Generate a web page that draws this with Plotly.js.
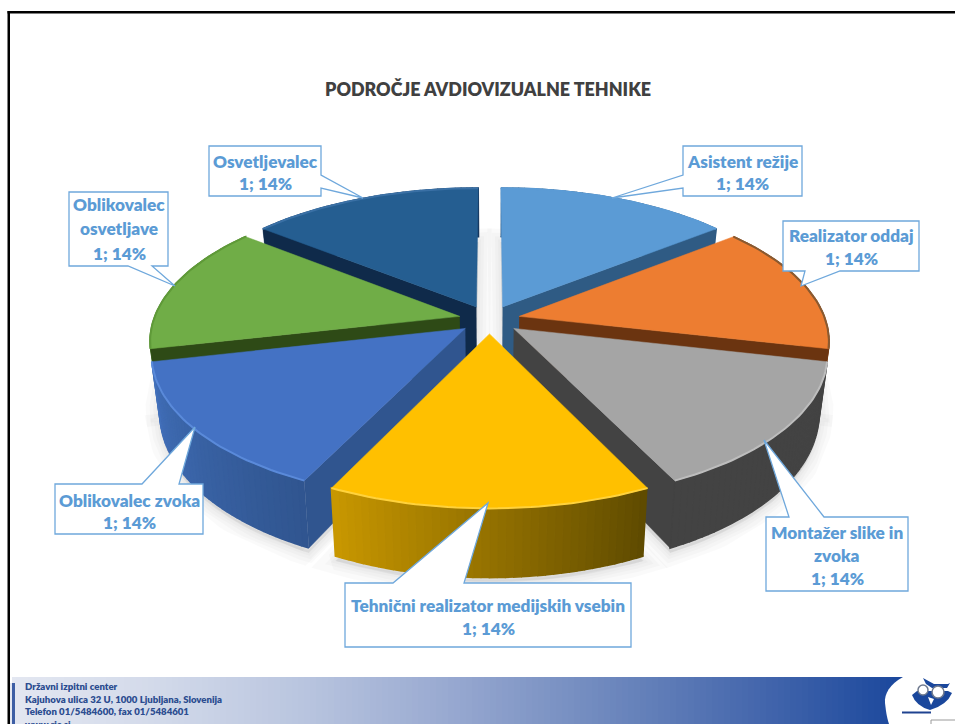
<!DOCTYPE html>
<html>
<head>
<meta charset="utf-8">
<script src="https://cdn.plot.ly/plotly-3.0.1.min.js"></script>
<style>html,body{margin:0;padding:0;background:#fff;overflow:hidden}#chart{width:955px;height:724px}</style>
</head>
<body>
<div id="chart"></div>
<script>
// ---- data ----
const chartTitle = "PODROČJE AVDIOVIZUALNE TEHNIKE";
const categoryLines = [
  ["Asistent režije"],
  ["Realizator oddaj"],
  ["Montažer slike in", "zvoka"],
  ["Tehnični realizator medijskih vsebin"],
  ["Oblikovalec zvoka"],
  ["Oblikovalec", "osvetljave"],
  ["Osvetljevalec"]
];
const values = [1, 1, 1, 1, 1, 1, 1];
const footerLines = [
  "Državni izpitni center",
  "Kajuhova ulica 32 U, 1000 Ljubljana, Slovenija",
  "Telefon 01/5484600, fax 01/5484601",
  "www.ric.si"
];

// ---- styles ----
const topColors   = ["#5b9bd5", "#ed7d31", "#a5a5a5", "#ffc000", "#4472c4", "#70ad47", "#255e91"];
const sideColors  = ["#2f5b84", "#6b3410", "#434343", "#8a6a00", "#30558f", "#2e4a16", "#0f2a4a"];
const wallStart   = ["#2f5b84", "#7a3c14", "#434343", "#5e4a00", "#30558f", "#4a7a2c", "#17375e"]; // at lower angle
const wallEnd     = ["#2f5b84", "#7a3c14", "#434343", "#c99800", "#4270bb", "#4a7a2c", "#17375e"]; // at higher angle
const rimColors   = ["#5b9bd5", "#8a5a30", "#bdbdbd", "#ffd23c", "#5a8ada", "#5f9a38", "#3a70a5"];
const drawOrder   = [0, 6, 1, 5, 2, 4, 3];
const labelColor  = "#5b9bd5";

// ---- perspective projection of the exploded pie ----
const cx = 489.5, cy = 319.5, bx = 306, ay = 141.5, k = 0.16, depth = 57, shrink = 0.975, explode = 0.1, seg = 40;
function project(X, Y, low) {
  const w = 1 / (1 - k * Y);
  let x = cx + bx * X * w, y = cy + ay * Y * w;
  if (low) { x = cx + (x - cx) * shrink; y += depth * w; }
  return [x, y];
}
function hex(c){return [1,3,5].map(i=>parseInt(c.substr(i,2),16));}
function mix(a,b,t){const A=hex(a),B=hex(b);return "rgb("+A.map((v,i)=>Math.round(v+(B[i]-v)*t)).join(",")+")";}

const total = values.reduce((s,v)=>s+v,0);
let acc = 0;
const slices = values.map(v => {
  const a0 = acc / total * 2 * Math.PI; acc += v;
  const a1 = acc / total * 2 * Math.PI;
  const am = (a0 + a1) / 2;
  const ox = explode * Math.sin(am), oy = -explode * Math.cos(am);
  const rim = [];
  for (let i = 0; i <= seg; i++) {
    const t = a0 + (a1 - a0) * i / seg;
    rim.push([ox + Math.sin(t), oy - Math.cos(t)]);
  }
  return {apex:[ox, oy], rim, am};
});

function poly(pts, color, extra) {
  return Object.assign({
    type:"scatter", mode:"lines", x:pts.map(p=>p[0]), y:pts.map(p=>p[1]),
    fill:"toself", fillcolor:color, line:{color:color, width:1.6},
    hoverinfo:"skip", showlegend:false
  }, extra || {});
}
const traces = [];

// soft shadow under the pie
[26, 18, 11, 5].forEach(width => {
  slices.forEach(s => {
    const pts = [s.apex].concat(s.rim).concat([s.apex]).map(p => { const q = project(p[0], p[1], true); return [q[0], q[1] + 5]; });
    traces.push(poly(pts, "rgba(0,0,0,0.018)", {line:{color:"rgba(0,0,0,0.018)", width:width}}));
  });
});

drawOrder.forEach(i => {
  const s = slices[i], A = s.apex;
  for (let j = 0; j < seg; j++) {
    const p = s.rim[j], q = s.rim[j+1];
    traces.push(poly([project(p[0],p[1]), project(q[0],q[1]), project(q[0],q[1],true), project(p[0],p[1],true)],
      mix(wallStart[i], wallEnd[i], (j+0.5)/seg)));
  }
  // only the cut side that faces the viewer
  if (Math.abs(s.am - Math.PI) > 0.01) {
    const c = s.am < Math.PI ? s.rim[seg] : s.rim[0];
    traces.push(poly([project(A[0],A[1]), project(c[0],c[1]), project(c[0],c[1],true), project(A[0],A[1],true)], sideColors[i], {line:{color:sideColors[i], width:0.5}}));
  }
  const topPts = [A].concat(s.rim).concat([A]).map(p => project(p[0], p[1]));
  traces.push(poly(topPts, topColors[i], {line:{color:topColors[i], width:0.5}}));
  const rimPts = s.rim.map(p => project(p[0], p[1]));
  traces.push({type:"scatter", mode:"lines", x:rimPts.map(p=>p[0]), y:rimPts.map(p=>p[1]),
    line:{color:rimColors[i], width:2}, hoverinfo:"skip", showlegend:false});
});

// ---- callouts: outline including pointer ----
const callouts = [
  "M683,146 L802,146 L802,196 L683,196 L683,188 L612,198 L683,175 Z",
  "M783,221 L919,221 L919,271 L840,271 L801,286 L805,271 L783,271 Z",
  "M766,517 L789,517 L764,440 L824,517 L908,517 L908,591 L766,591 Z",
  "M345,583 L393,583 L488,503 L464,583 L631,583 L631,647 L345,647 Z",
  "M55,484 L142,484 L195,427 L179,484 L203,484 L203,534 L55,534 Z",
  "M69,192 L168,192 L168,266 L152,266 L175,286 L128,266 L69,266 Z",
  "M209,146 L321,146 L321,175 L363,198 L321,188 L321,196 L209,196 Z"
];
const labelCenters = [742, 851, 837, 488, 129, 119, 265];
const labelRows = [
  [161,183],
  [235,258],
  [532,555,578],
  [605,628],
  [500,522],
  [204,228,253],
  [161,183]
];
const annotations = [];
const ann = (text,x,y,size,color,family,anchor) => annotations.push({text:text,x:x,y:y,xref:"x",yref:"y",showarrow:false,
  xanchor:anchor||"center",yanchor:"middle",font:{size:size,color:color,family:family,weight:800}});
ann(chartTitle, 488, 89, 17.9, "#404040", "Lato");
categoryLines.forEach((lines,i) => {
  const all = lines.concat([values[i] + "; " + Math.round(values[i]/total*100) + "%"]);
  all.forEach((t,j) => ann(t, labelCenters[i], labelRows[i][j], 17.2, labelColor, "Lato"));
});
const footerRows = [686, 699, 711, 724];
footerLines.forEach((t,j) => ann(t, 23, footerRows[j], 9.6, "#2b4c90", "Lato", "left"));

// ---- slide decoration ----
const shapes = [];
const rectS = (x0,y0,x1,y1,fill) => shapes.push({type:"rect",xref:"x",yref:"y",x0,y0,x1,y1,fillcolor:fill,line:{width:0},layer:"below"});
const gradStops = [[10,"#e3e7f1"],[150,"#d3daea"],[300,"#b9c5df"],[450,"#97a8d0"],[600,"#6f89be"],[750,"#4668ad"],[900,"#1a479c"]];
for (let x = 10; x < 905; x += 6) {
  let c = gradStops[gradStops.length-1][1];
  for (let j = 0; j < gradStops.length-1; j++) {
    if (x >= gradStops[j][0] && x < gradStops[j+1][0]) { c = mix(gradStops[j][1], gradStops[j+1][1], (x-gradStops[j][0])/(gradStops[j+1][0]-gradStops[j][0])); }
  }
  rectS(x, 677, x+6.5, 724, c);
}
rectS(10, 677, 12, 683, "#ffffff");
rectS(12, 683, 15, 724, "#3d5ea5");
rectS(7.5, 11, 955, 13.5, "#000000");
rectS(7.5, 11, 10, 724, "#000000");
const pathS = (path,fill,line) => shapes.push({type:"path",xref:"x",yref:"y",path,fillcolor:fill,line:line||{width:0},layer:"below"});
pathS("M903,677 C890,684 884,694 885,703 C886,712 887,718 889,724 L955,724 L955,677 Z", "#ffffff");
// owl logo
pathS("M912,695 L917,691 L948,691 L952,693 Q947,705 930,710 Q916,706 912,695 Z", "#1a479c");
pathS("M923,678 L934,684 L948,684 L950,683 L947,688 L932,688 L926,684 Z", "#1a479c");
pathS("M928,697 L934,699 L931,705 Z", "#ffffff");
shapes.push({type:"circle",xref:"x",yref:"y",x0:918,y0:685,x1:928,y1:695,fillcolor:"#ffffff",line:{color:"#6f7a8f",width:1.5},layer:"below"});
shapes.push({type:"circle",xref:"x",yref:"y",x0:932,y0:686,x1:944,y1:698,fillcolor:"#ffffff",line:{color:"#6f7a8f",width:1.5},layer:"below"});
rectS(902, 711.5, 931, 713.5, "#1f4390");
shapes.push({type:"rect",xref:"x",yref:"y",x0:931,y0:720,x1:956,y1:726,fillcolor:"#ffffff",line:{color:"#9a9a9a",width:1},layer:"below"});
callouts.forEach(path => shapes.push({type:"path",xref:"x",yref:"y",path,fillcolor:"#ffffff",line:{color:"#6fa8dc",width:1.3},layer:"above"}));

Plotly.newPlot("chart", traces, {
  width:955, height:724, margin:{l:0,r:0,t:0,b:0}, showlegend:false,
  paper_bgcolor:"#ffffff", plot_bgcolor:"#ffffff",
  xaxis:{range:[0,955], visible:false, fixedrange:true},
  yaxis:{range:[724,0], visible:false, fixedrange:true},
  shapes, annotations
}, {displayModeBar:false, responsive:false});
</script>
</body>
</html>
